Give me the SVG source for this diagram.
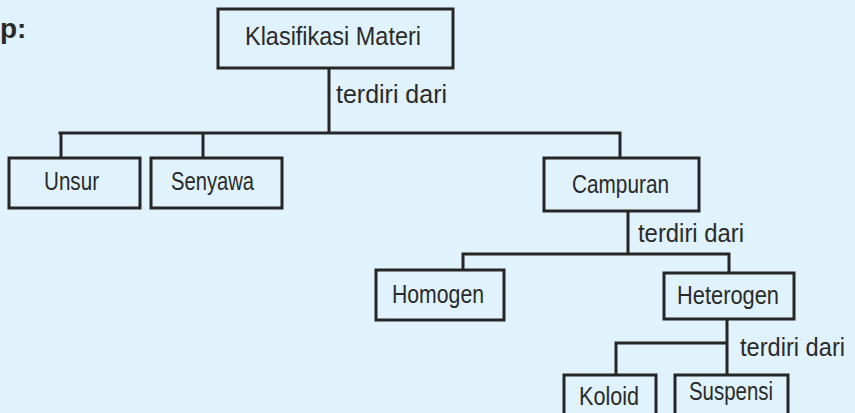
<svg xmlns="http://www.w3.org/2000/svg" width="855" height="413" viewBox="0 0 855 413">
<style>
.box{fill:#e0f2fc;stroke:#262626;stroke-width:3}
.ln{fill:none;stroke:#262626;stroke-width:3;stroke-linecap:square}
.t{font-family:"Liberation Sans",Arial,sans-serif;font-size:26px;fill:#2a2a2a}
</style>
<rect width="855" height="413" fill="#e0f2fc"/>
<text x="0" y="38" font-family="Liberation Sans, Arial, sans-serif" font-size="28" font-weight="bold" fill="#2a2a2a">p:</text>
<g id="connectors">
<path class="ln" d="M329 68V133M60 133H620M61 133V158M203 133V158M620 133V158"/>
<path class="ln" d="M628 211V254M463 254H729M463 254V270M729 254V273"/>
<path class="ln" d="M727 319V375M616 343H727M616 343V375"/>
<text class="t" x="336" y="103" textLength="111" lengthAdjust="spacingAndGlyphs">terdiri dari</text>
<text class="t" x="638" y="242" textLength="106" lengthAdjust="spacingAndGlyphs">terdiri dari</text>
<text class="t" x="740" y="356" textLength="105" lengthAdjust="spacingAndGlyphs">terdiri dari</text>
</g>
<g id="klasifikasi">
<rect class="box" x="218" y="9" width="235" height="59"/>
<text class="t" x="245" y="45" textLength="176" lengthAdjust="spacingAndGlyphs">Klasifikasi Materi</text>
</g>
<g id="unsur">
<rect class="box" x="9" y="158" width="131" height="50"/>
<text class="t" x="44" y="190" textLength="55" lengthAdjust="spacingAndGlyphs">Unsur</text>
</g>
<g id="senyawa">
<rect class="box" x="151" y="158" width="131" height="50"/>
<text class="t" x="171" y="190" textLength="83" lengthAdjust="spacingAndGlyphs">Senyawa</text>
</g>
<g id="campuran">
<rect class="box" x="544" y="158" width="155" height="53"/>
<text class="t" x="572" y="193" textLength="97" lengthAdjust="spacingAndGlyphs">Campuran</text>
</g>
<g id="homogen">
<rect class="box" x="376" y="270" width="128" height="50"/>
<text class="t" x="392" y="303" textLength="92" lengthAdjust="spacingAndGlyphs">Homogen</text>
</g>
<g id="heterogen">
<rect class="box" x="664" y="273" width="130" height="46"/>
<text class="t" x="677" y="304" textLength="102" lengthAdjust="spacingAndGlyphs">Heterogen</text>
</g>
<g id="koloid">
<rect class="box" x="564" y="375" width="92" height="50"/>
<text class="t" x="579" y="405" textLength="60" lengthAdjust="spacingAndGlyphs">Koloid</text>
</g>
<g id="suspensi">
<rect class="box" x="675" y="375" width="113" height="50"/>
<text class="t" x="689" y="400" textLength="84" lengthAdjust="spacingAndGlyphs">Suspensi</text>
</g>
</svg>
